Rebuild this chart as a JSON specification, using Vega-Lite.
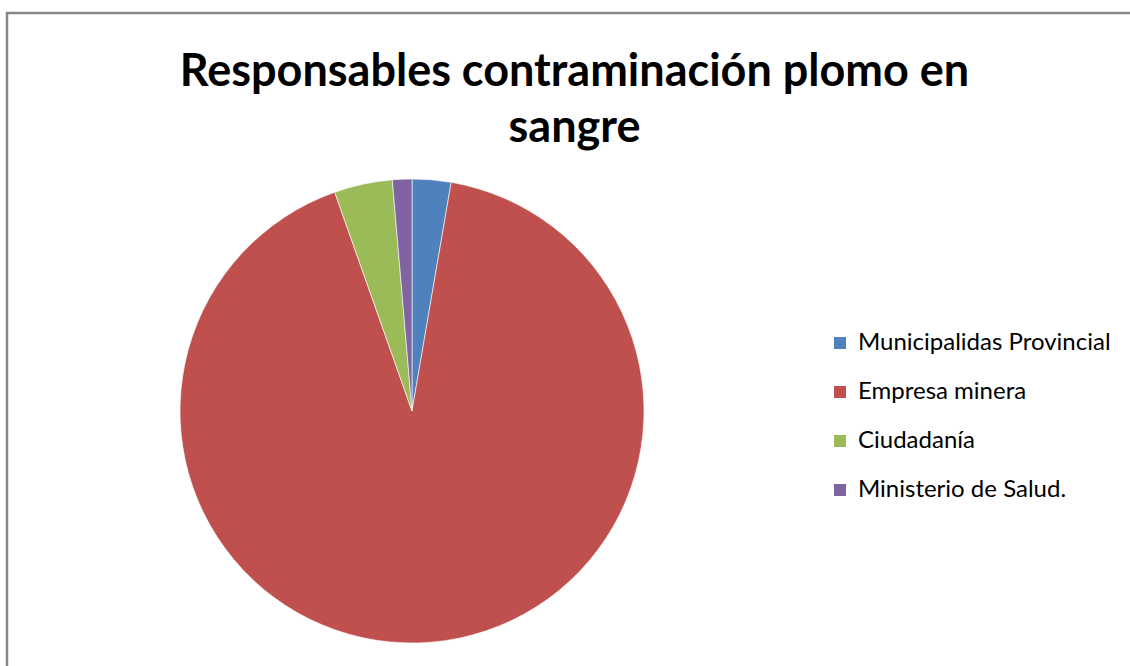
{
  "$schema": "https://vega.github.io/schema/vega-lite/v6.json",
  "autosize": "none",
  "width": 1123,
  "height": 653,
  "padding": {"left": 7, "top": 13, "right": 0, "bottom": 0},
  "background": "white",
  "title": {
    "text": ["Responsables contraminación plomo en", "sangre"],
    "font": "Lato",
    "fontSize": 45,
    "fontWeight": "bold",
    "color": "#000000",
    "anchor": "middle",
    "frame": "group",
    "orient": "top",
    "baseline": "alphabetic",
    "lineHeight": 56,
    "offset": -175,
    "dx": 6
  },
  "layer": [
    {
      "data": {"values": [{}]},
      "mark": {"type": "rect", "fill": null, "stroke": "#878787", "strokeWidth": 2.5},
      "encoding": {
        "x": {"value": 0},
        "x2": {"value": 1300},
        "y": {"value": 0},
        "y2": {"value": 800}
      }
    },
    {
      "data": {
        "values": [
          {"responsable": "Municipalidas Provincial", "valor": 2, "orden": 1},
          {"responsable": "Empresa minera", "valor": 68, "orden": 2},
          {"responsable": "Ciudadanía", "valor": 3, "orden": 3},
          {"responsable": "Ministerio  de Salud.", "valor": 1, "orden": 4}
        ]
      },
      "mark": {"type": "arc", "radius": 232, "x": 405, "y": 398, "stroke": "white", "strokeWidth": 0.6},
      "encoding": {
        "theta": {"field": "valor", "type": "quantitative", "stack": true},
        "order": {"field": "orden", "type": "quantitative", "sort": "ascending"},
        "color": {
          "field": "responsable",
          "type": "nominal",
          "sort": ["Municipalidas Provincial", "Empresa minera", "Ciudadanía", "Ministerio  de Salud."],
          "scale": {
            "domain": ["Municipalidas Provincial", "Empresa minera", "Ciudadanía", "Ministerio  de Salud."],
            "range": ["#4F81BD", "#C0504D", "#9BBB59", "#8064A2"]
          },
          "legend": {
            "title": null,
            "orient": "none",
            "legendX": 821,
            "legendY": 318,
            "symbolType": "square",
            "symbolSize": 144,
            "symbolStrokeWidth": 0,
            "labelFont": "Lato",
            "labelFontSize": 24,
            "labelColor": "#000000",
            "labelOffset": 6,
            "labelLimit": 400,
            "rowPadding": 25
          }
        }
      }
    }
  ]
}
